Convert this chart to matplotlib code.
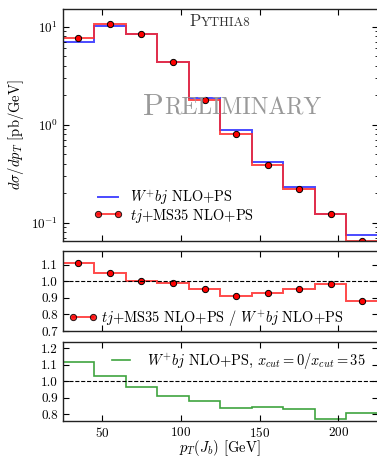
import numpy as np
import matplotlib
matplotlib.use("Agg")
import matplotlib.pyplot as plt
from matplotlib.lines import Line2D
from matplotlib.offsetbox import TextArea, HPacker, AnnotationBbox

plt.rcParams['font.family'] = 'serif'
plt.rcParams['font.serif'] = ['cmr10', 'DejaVu Serif']
plt.rcParams['mathtext.fontset'] = 'cm'
plt.rcParams['axes.formatter.use_mathtext'] = True
plt.rcParams['axes.unicode_minus'] = False

# bins in pT(J_b) [GeV]
edges = [25, 45, 65, 85, 105, 125, 145, 165, 185, 205, 225]
centers = [35, 55, 75, 95, 115, 135, 155, 175, 195, 215]

# dsigma/dpT [pb/GeV]
wbj = [6.95, 10.2, 8.5, 4.36, 1.88, 0.875, 0.42, 0.229, 0.124, 0.075]
tj = [7.7, 10.7, 8.5, 4.32, 1.79, 0.795, 0.39, 0.218, 0.122, 0.0655]

# ratio tj / W+bj
ratio = [1.108, 1.051, 1.000, 0.990, 0.953, 0.910, 0.928, 0.951, 0.984, 0.879]

# W+bj xcut=0 / xcut=35
xcut_ratio = [1.119, 1.033, 0.963, 0.910, 0.881, 0.838, 0.844, 0.828, 0.768, 0.805]

red = '#ff2a2a'
blue = '#2a2aff'
green = '#2a9a2a'
lfs = 10.4

fig = plt.figure(figsize=(3.77, 4.57), dpi=100)
ax1 = fig.add_axes([0.1663, 0.4726, 0.836, 0.507])
ax2 = fig.add_axes([0.1663, 0.2757, 0.836, 0.174])
ax3 = fig.add_axes([0.1663, 0.0777, 0.836, 0.1733])

# top panel
ax1.stairs(wbj, edges, color=blue, lw=1.4, alpha=0.85)
ax1.stairs(tj, edges, color=red, lw=1.4, alpha=0.85)
ax1.plot(centers, tj, 'o', color='red', mec='black', mew=0.7, ms=4.5)
ax1.set_yscale('log')
ax1.set_ylim(0.065, 15)

h_blue = Line2D([], [], color=blue, lw=1.4, alpha=0.85)
h_red = Line2D([], [], color=red, lw=1.4, alpha=0.85, marker='o',
               mfc='red', mec='black', mew=0.7, ms=4.5)
ax1.legend([h_blue, h_red], [r'$W^{+}bj$ NLO+PS', r'$tj$+MS35 NLO+PS'],
           loc='center left', bbox_to_anchor=(0.08, 0.15), frameon=False,
           fontsize=lfs, numpoints=2, handlelength=2.0, handletextpad=0.53,
           labelspacing=-0.02, borderaxespad=0)

# small caps labels
def smallcaps(ax, first, rest, xy, big, small, color):
    box = HPacker(children=[TextArea(first, textprops=dict(size=big, color=color)),
                            TextArea(rest, textprops=dict(size=small, color=color))],
                  align='baseline', pad=0, sep=0)
    ab = AnnotationBbox(box, xy, xycoords='figure pixels', frameon=False,
                        box_alignment=(0.5, 0.5))
    ax.add_artist(ab)

smallcaps(ax1, 'P', 'YTHIA8', (220, 457 - 21), 12, 9.4, '#333333')
smallcaps(ax1, 'P', 'RELIMINARY', (232, 457 - 107), 22, 17, '#999999')

# middle panel
ax2.stairs(ratio, edges, color=red, lw=1.4, alpha=0.85)
ax2.plot(centers, ratio, 'o', color='red', mec='black', mew=0.7, ms=4.5)
ax2.axhline(1.0, color='black', ls='--', lw=0.8)
ax2.set_ylim(0.7, 1.18)
ax2.set_yticks([0.7, 0.8, 0.9, 1.0, 1.1])
ax2.legend([h_red], [r'$tj$+MS35 NLO+PS / $W^{+}bj$ NLO+PS'],
           loc='center left', bbox_to_anchor=(0.0, 0.165), frameon=False,
           fontsize=lfs, numpoints=2, handlelength=2.0, handletextpad=0.25,
           borderaxespad=0)

# bottom panel
ax3.stairs(xcut_ratio, edges, color=green, lw=1.2, alpha=0.9)
ax3.axhline(1.0, color='black', ls='--', lw=0.8)
ax3.set_ylim(0.755, 1.237)
ax3.set_yticks([0.8, 0.9, 1.0, 1.1, 1.2])
h_green = Line2D([], [], color=green, lw=1.2, alpha=0.9)
ax3.legend([h_green], [r'$W^{+}bj$ NLO+PS, $x_{cut}=0/x_{cut}=35$'],
           loc='center left', bbox_to_anchor=(0.138, 0.76), frameon=False,
           fontsize=lfs, handlelength=1.25, handletextpad=1.18,
           borderaxespad=0)

for ax in (ax1, ax2, ax3):
    ax.set_xlim(25, 225)
    ax.set_xticks([50, 100, 150, 200])
    ax.tick_params(which='both', direction='in', top=True, right=True,
                   labelsize=9.5)
    ax.tick_params(which='major', length=4, width=0.8)
    ax.tick_params(which='minor', length=2.5, width=0.6)
    for s in ax.spines.values():
        s.set_linewidth(1.0)
        s.set_color('#222222')

for ax in (ax2, ax3):
    ax.yaxis.set_major_formatter(matplotlib.ticker.FormatStrFormatter('%.1f'))
    ax.minorticks_off()

ax1.tick_params(labelbottom=False)
ax2.tick_params(labelbottom=False)

fig.text(16 / 377, 1 - 135 / 457, r'$d\sigma/dp_T$ [pb/GeV]', rotation=90,
         ha='center', va='center', fontsize=10.5)
fig.text(220 / 377, 1 - 452.5 / 457, r'$p_T(J_b)$ [GeV]', ha='center',
         va='baseline', fontsize=10.5)

fig.savefig('out.png', dpi=100)
